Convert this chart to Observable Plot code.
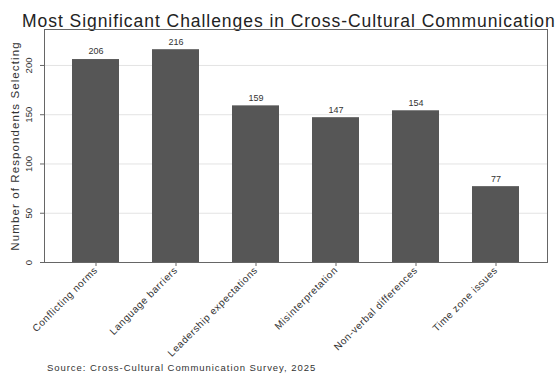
<!DOCTYPE html>
<html>
<head>
<meta charset="utf-8">
<script src="https://cdn.jsdelivr.net/npm/d3@7"></script>
<script src="https://cdn.jsdelivr.net/npm/@observablehq/plot@0.6"></script>
<style>
  html, body { margin: 0; padding: 0; background: #fff; width: 560px; height: 376px; overflow: hidden; }
  #wrap { position: relative; width: 560px; height: 376px; font-family: "Liberation Sans", Arial, sans-serif; }
  #title { margin: 0; padding: 13px 0 0 22px; font-size: 17.5px; letter-spacing: 0.95px; line-height: 16px; height: 16px; color: #222; white-space: nowrap; margin-bottom: -3px; font-weight: normal; }
  #caption { margin: 0; padding-left: 47px; font-size: 9.5px; letter-spacing: 0.95px; line-height: 10px; color: #333; white-space: nowrap; margin-top: 5px; }
  svg { display: block; overflow: visible; }
  g[aria-label="x-axis tick label"] text { letter-spacing: 0.6px; }
  g.ylab text { letter-spacing: 1.1px; }
</style>
</head>
<body>
<div id="wrap">
  <div id="title">Most Significant Challenges in Cross-Cultural Communication</div>
  <div id="chart"></div>
  <div id="caption">Source: Cross-Cultural Communication Survey, 2025</div>
</div>
<script>
const categories = ["Conflicting norms", "Language barriers", "Leadership expectations", "Misinterpretation", "Non-verbal differences", "Time zone issues"];
const counts = [206, 216, 159, 147, 154, 77];
const yTicks = [0, 50, 100, 150, 200];
const yLabel = "Number of Respondents Selecting";

const data = categories.map((c, i) => ({category: c, count: counts[i]}));

const chart = Plot.plot({
  width: 560,
  height: 332,
  marginTop: 3,
  marginBottom: 96,
  marginLeft: 44,
  marginRight: 13,
  style: {fontFamily: "'Liberation Sans', Arial, sans-serif", background: "#fff", color: "#333"},
  x: {domain: categories, paddingInner: 0.41, paddingOuter: 0.31, label: null},
  y: {domain: [0, 236.5], label: null},
  marks: [
    Plot.gridY(yTicks.filter(d => d > 0), {stroke: "#e3e3e3", strokeOpacity: 1}),
    Plot.barY(data, {x: "category", y: "count", fill: "#565656"}),
    Plot.text(data, {x: "category", y: "count", text: d => String(d.count), dy: -8, fontSize: 9, fill: "#333"}),
    Plot.axisY({ticks: yTicks, tickSize: 4, stroke: "#666", label: null, tickFormat: () => ""}),
    Plot.text(yTicks, {y: d => d, text: d => String(d), frameAnchor: "left", dx: -16, rotate: -90, fontSize: 9.5, fill: "#333", textAnchor: "middle"}),
    Plot.text([yLabel], {frameAnchor: "left", dx: -29, rotate: -90, fontSize: 11.5, fill: "#333", textAnchor: "middle", className: "ylab"}),
    Plot.axisX({tickSize: 4, tickRotate: -45, fontSize: 10, tickPadding: 2, label: null, stroke: "#666"}),
    Plot.frame({stroke: "#666"})
  ]
});
document.getElementById("chart").appendChild(chart);
</script>
</body>
</html>
